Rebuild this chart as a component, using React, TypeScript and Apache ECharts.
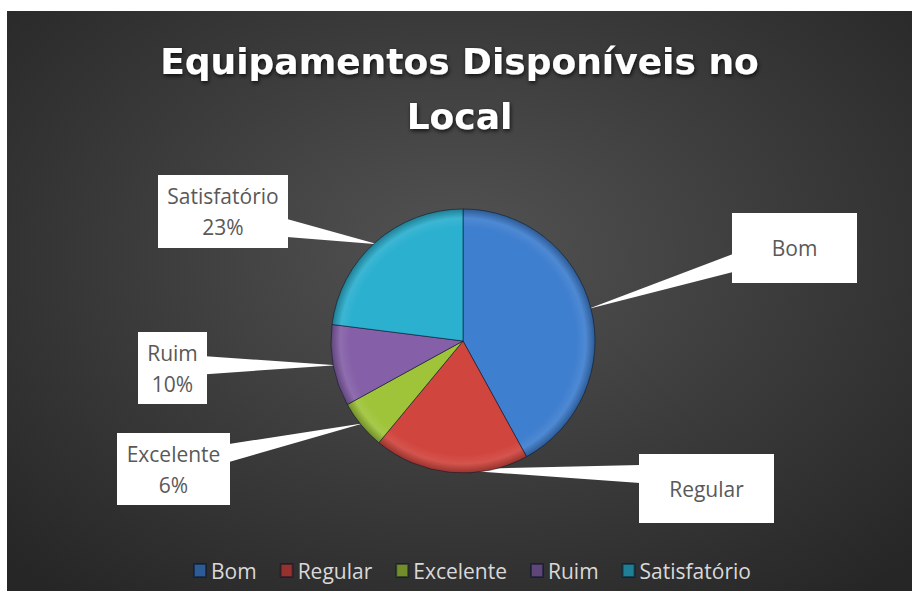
import React, { useEffect, useRef } from "react";
import * as echarts from "echarts";

const categories = ["Bom", "Regular", "Excelente", "Ruim", "Satisfatório"];
const values = [42, 19, 6, 10, 23];
const showPercent = [false, false, true, true, true];
const colors = ["#3f7fcf", "#d0453e", "#9fc43a", "#8560a8", "#2bb0cf"];

// label callout boxes (chart coordinates): centre x/y, width, height
const labelBoxes = [
  { cx: 787.5, cy: 237, w: 125, h: 70 },
  { cx: 699.5, cy: 477.5, w: 135, h: 69 },
  { cx: 166.5, cy: 458, w: 113, h: 72 },
  { cx: 165.5, cy: 357, w: 69, h: 72 },
  { cx: 216, cy: 200.5, w: 130, h: 73 },
];

const PIE_CX = 456;
const PIE_CY = 330;
const PIE_R = 132;
const LINE_H = 31;

function darken(hex: string, f: number) {
  const n = parseInt(hex.slice(1), 16);
  const r = Math.round(((n >> 16) & 255) * f);
  const g = Math.round(((n >> 8) & 255) * f);
  const b = Math.round((n & 255) * f);
  return `rgb(${r},${g},${b})`;
}

function lighten(hex: string, f: number) {
  const n = parseInt(hex.slice(1), 16);
  const r = (n >> 16) & 255;
  const g = (n >> 8) & 255;
  const b = n & 255;
  const l = (c: number) => Math.round(c + (255 - c) * f);
  return `rgb(${l(r)},${l(g)},${l(b)})`;
}

export default function App() {
  const ref = useRef<HTMLDivElement>(null);

  useEffect(() => {
    if (!ref.current) return;
    const chart = echarts.init(ref.current, undefined, { renderer: "svg" });
    const total = values.reduce((a, b) => a + b, 0);

    // wedge pointers from each label box to its slice edge
    let cum = 0;
    const wedges = values.map((v, i) => {
      const theta = (2 * Math.PI * (cum + v / 2)) / total;
      cum += v;
      const tx = PIE_CX + (PIE_R - 3) * Math.sin(theta);
      const ty = PIE_CY - (PIE_R - 3) * Math.cos(theta);
      const b = labelBoxes[i];
      const top = b.cy - b.h / 2;
      const bottom = b.cy + b.h / 2;
      const ex = b.cx < PIE_CX ? b.cx + b.w / 2 - 1 : b.cx - b.w / 2 + 1;
      const my = Math.min(Math.max(ty, top + 20), bottom - 20);
      return {
        type: "polygon",
        z: 1,
        silent: true,
        shape: { points: [[tx, ty], [ex, my - 9], [ex, my + 9]] },
        style: { fill: "#ffffff" },
      };
    });

    const data = values.map((v, i) => {
      const lines = showPercent[i] ? 2 : 1;
      const b = labelBoxes[i];
      const padV = (b.h - lines * LINE_H) / 2;
      return {
        name: categories[i],
        value: v,
        itemStyle: {
          color: {
            type: "radial",
            x: PIE_CX,
            y: PIE_CY,
            r: PIE_R,
            global: true,
            colorStops: [
              { offset: 0, color: colors[i] },
              { offset: 0.86, color: colors[i] },
              { offset: 0.93, color: lighten(colors[i], 0.08) },
              { offset: 1, color: darken(colors[i], 0.72) },
            ],
          },
        },
        label: {
          width: b.w,
          padding: [padV, 0, padV, 0],
        },
      };
    });

    chart.setOption({
      animation: false,
      title: {
        text: "Equipamentos Disponíveis no\nLocal",
        left: "center",
        top: 23,
        padding: 0,
        textStyle: {
          fontFamily: "DejaVu Sans",
          fontWeight: "bold",
          fontSize: 36,
          lineHeight: 55,
          color: "#ffffff",
          textShadowColor: "rgba(0,0,0,0.75)",
          textShadowBlur: 4,
          textShadowOffsetX: 1,
          textShadowOffsetY: 2,
        },
      },
      legend: {
        data: categories,
        top: 549,
        left: 186,
        padding: 0,
        icon: "rect",
        itemWidth: 12,
        itemHeight: 13,
        itemGap: 23,
        textStyle: {
          color: "#d9d9d9",
          fontFamily: "Open Sans",
          fontSize: 21,
        },
      },
      graphic: wedges,
      series: [
        {
          type: "pie",
          center: [PIE_CX, PIE_CY],
          radius: PIE_R,
          startAngle: 90,
          clockwise: true,
          z: 2,
          color: colors,
          itemStyle: {
            borderColor: "rgba(10,20,40,0.55)",
            borderWidth: 1,
          },
          labelLine: { show: false },
          label: {
            show: true,
            position: "outside",
            backgroundColor: "#ffffff",
            color: "#595959",
            fontFamily: "Open Sans",
            fontSize: 21,
            lineHeight: LINE_H,
            align: "center",
            formatter: (p: any) =>
              showPercent[p.dataIndex]
                ? `${p.name}\n${Math.round(p.percent)}%`
                : p.name,
          },
          labelLayout: (p: any) => {
            const b = labelBoxes[p.dataIndex];
            return { x: b.cx, y: b.cy, align: "center", verticalAlign: "middle" };
          },
          emphasis: { disabled: true },
          data,
        },
      ],
    });

    return () => chart.dispose();
  }, []);

  return (
    <div
      ref={ref}
      style={{
        position: "absolute",
        left: 7,
        top: 11,
        width: 905,
        height: 580,
        background:
          "radial-gradient(ellipse 70% 75% at 50% 42%, #535353 0%, #3c3c3c 50%, #262626 100%)",
      }}
    />
  );
}
